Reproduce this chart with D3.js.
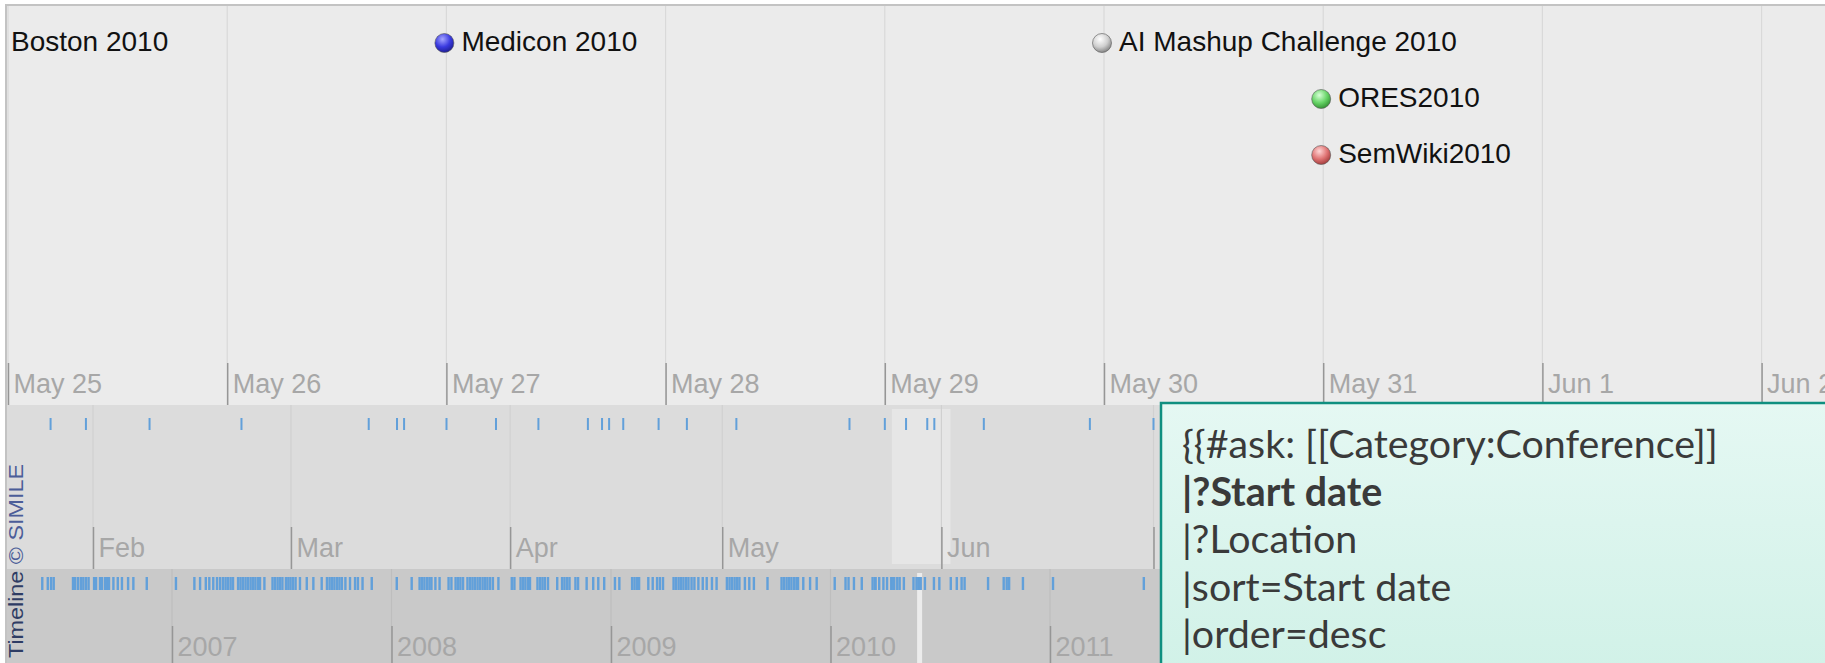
<!DOCTYPE html>
<html>
<head>
<meta charset="utf-8">
<script src="https://cdn.jsdelivr.net/npm/d3@7"></script>
<style>
body { margin: 0; background: #fff; }
svg { display: block; }
</style>
</head>
<body>
<svg id="chart" width="1825" height="663"></svg>
<script>
// events labelled in the detail band
const eventNames = ['Boston 2010', 'Medicon 2010', 'AI Mashup Challenge 2010', 'ORES2010', 'SemWiki2010']
const eventDates = ['2010-05-24', '2010-05-27', '2010-05-30', '2010-05-31', '2010-05-31']
const eventIcons = ['none', 'blue', 'gray', 'green', 'red']

// conference start dates 2010 / 2011 (month band + year band)
const recentDates = ['2010-01-08', '2010-01-26', '2010-01-31', '2010-02-09', '2010-02-22', '2010-03-12',
    '2010-03-16', '2010-03-17', '2010-03-23', '2010-03-30', '2010-04-05', '2010-04-12', '2010-04-14',
    '2010-04-15', '2010-04-17', '2010-04-22', '2010-04-26', '2010-05-03', '2010-05-19', '2010-05-24',
    '2010-05-27', '2010-05-30', '2010-05-31', '2010-06-07', '2010-06-22', '2010-07-01', '2010-07-20',
    '2010-07-30', '2010-08-07', '2010-08-12', '2010-09-20', '2010-10-16', '2010-10-21', '2010-10-25',
    '2010-11-17', '2011-01-06', '2011-06-06']

const olderYears = [2006.409, 2006.434, 2006.449, 2006.461, 2006.549, 2006.559, 2006.572, 2006.585, 2006.596,
    2006.608, 2006.620, 2006.645, 2006.654, 2006.672, 2006.681, 2006.695, 2006.704, 2006.713, 2006.733,
    2006.753, 2006.772, 2006.800, 2006.824, 2006.885,
    2007.018, 2007.102, 2007.128, 2007.154, 2007.170, 2007.188, 2007.205, 2007.219, 2007.232, 2007.244,
    2007.255, 2007.267, 2007.278, 2007.301, 2007.312, 2007.323, 2007.335, 2007.346, 2007.358, 2007.369,
    2007.380, 2007.392, 2007.401, 2007.421, 2007.458, 2007.469, 2007.481, 2007.492, 2007.503, 2007.519,
    2007.530, 2007.540, 2007.551, 2007.563, 2007.583, 2007.614, 2007.644, 2007.682, 2007.706, 2007.718,
    2007.729, 2007.740, 2007.752, 2007.763, 2007.774, 2007.790, 2007.811, 2007.834, 2007.847, 2007.868,
    2007.910,
    2008.024, 2008.092, 2008.128, 2008.139, 2008.150, 2008.162, 2008.173, 2008.182, 2008.200, 2008.219,
    2008.260, 2008.273, 2008.292, 2008.303, 2008.314, 2008.326, 2008.346, 2008.358, 2008.369, 2008.380,
    2008.392, 2008.403, 2008.415, 2008.426, 2008.437, 2008.449, 2008.462, 2008.487, 2008.548, 2008.560,
    2008.588, 2008.599, 2008.610, 2008.622, 2008.631, 2008.665, 2008.677, 2008.688, 2008.699, 2008.713,
    2008.755, 2008.777, 2008.788, 2008.800, 2008.811, 2008.838, 2008.850, 2008.889, 2008.919, 2008.942,
    2008.969,
    2009.018, 2009.038, 2009.096, 2009.107, 2009.118, 2009.128, 2009.170, 2009.190, 2009.210, 2009.223,
    2009.237, 2009.285, 2009.296, 2009.308, 2009.319, 2009.330, 2009.342, 2009.353, 2009.367, 2009.380,
    2009.398, 2009.418, 2009.436, 2009.460, 2009.481, 2009.528, 2009.540, 2009.551, 2009.563, 2009.574,
    2009.585, 2009.610, 2009.630, 2009.651, 2009.713, 2009.777, 2009.788, 2009.800, 2009.811, 2009.822,
    2009.834, 2009.845, 2009.852, 2009.876, 2009.907, 2009.937]

const dayTicks = ['2010-05-25', '2010-05-26', '2010-05-27', '2010-05-28', '2010-05-29', '2010-05-30',
    '2010-05-31', '2010-06-01', '2010-06-02']
const monthTicks = ['2010-02-01', '2010-03-01', '2010-04-01', '2010-05-01', '2010-06-01', '2010-07-01']
const yearTicks = [2007, 2008, 2009, 2010, 2011]

const queryLines = ['{{#ask: [[Category:Conference]]', '|?Start date', '|?Location', '|sort=Start date', '|order=desc']
const queryBold = [false, true, false, false, false]

const width = 1825
const height = 663
const left = 6
const boxX = 1161
const bandTop = 5, dayBottom = 405, monthBottom = 569
const labelFont = '"Liberation Sans", Arial, sans-serif'
const labelColor = '#a7a7a7'
const tickBlue = '#62a0da'

const parse = d3.utcParse('%Y-%m-%d')

function toYear(d){
    const y = d.getUTCFullYear()
    const s = Date.UTC(y, 0, 1), e = Date.UTC(y + 1, 0, 1)
    return y + (d - s) / (e - s)
}

const dayX = d3.scaleUtc()
    .domain([parse('2010-05-25'), parse('2010-06-02')])
    .range([8, 8 + 8 * 219.2])
const monthX = d3.scaleUtc()
    .domain([parse('2010-02-01'), parse('2010-06-01')])
    .range([93, 93 + 120 * 7.07])
const yearX = d3.scaleLinear()
    .domain([2007, 2011])
    .range([172, 1050])

const svg = d3.select('#chart')
const defs = svg.append('defs')

function addClip(id, y0, y1, x1){
    defs.append('clipPath').attr('id', id)
        .append('rect').attr('x', left).attr('y', y0).attr('width', x1 - left).attr('height', y1 - y0)
}
addClip('clip-day', bandTop, dayBottom, width)
addClip('clip-month', dayBottom, monthBottom, boxX + 2)
addClip('clip-year', monthBottom, height, boxX + 2)

function drawBand(id, y0, y1, fill, gridColor, scale, ticks, fmt, tickLen, labelY, labelLimit){
    const g = svg.append('g').attr('clip-path', 'url(#' + id + ')')
    g.append('rect')
        .attr('x', left).attr('y', y0)
        .attr('width', width - left).attr('height', y1 - y0)
        .attr('fill', fill)

    g.selectAll('.grid')
        .data(ticks)
        .enter()
        .append('line')
        .attr('class', 'grid')
        .attr('x1', d => scale(d)).attr('x2', d => scale(d))
        .attr('y1', y0).attr('y2', y1)
        .attr('stroke', gridColor)
        .attr('stroke-width', 1.2)

    const axis = d3.axisBottom(scale)
        .tickValues(ticks)
        .tickFormat(d => scale(d) + 40 > labelLimit ? '' : fmt(d))
        .tickSize(-tickLen)
        .tickPadding(0)

    const axisG = g.append('g')
        .attr('class', 'axis')
        .attr('transform', 'translate(0,' + y1 + ')')
        .call(axis)
        .attr('font-family', labelFont)
        .attr('font-size', 27)
    axisG.select('.domain').remove()
    axisG.selectAll('.tick line').attr('stroke', '#969696').attr('stroke-width', 1.5)
    axisG.selectAll('.tick text')
        .attr('text-anchor', 'start')
        .attr('x', 5)
        .attr('y', labelY - y1)
        .attr('dy', null)
        .attr('fill', labelColor)
    return g
}

// ---- day band
const dayBand = drawBand('clip-day', bandTop, dayBottom, '#ebebeb', '#d9d9d9', dayX,
    dayTicks.map(parse), d3.utcFormat('%b %-d'), 42, 393, Infinity)

// ---- month band
const monthBand = drawBand('clip-month', dayBottom, monthBottom, '#dcdcdc', '#d0d0d0', monthX,
    monthTicks.map(parse), d3.utcFormat('%b'), 42, 557, boxX)

// ---- year band
const yearBand = drawBand('clip-year', monthBottom, height, '#c9c9c9', '#bebebe', yearX,
    yearTicks, d3.format('d'), 37, 656, boxX)

// visible range of the detail band, highlighted in the overview bands
const viewStart = dayX.invert(left)
const viewEnd = dayX.invert(width)

monthBand.insert('rect', '.grid')
    .attr('x', monthX(viewStart)).attr('y', 409)
    .attr('width', monthX(viewEnd) - monthX(viewStart)).attr('height', 155)
    .attr('fill', '#e6e6e6')

yearBand.insert('rect', '.axis')
    .attr('x', yearX(toYear(viewStart))).attr('y', 573)
    .attr('width', Math.max(yearX(toYear(viewEnd)) - yearX(toYear(viewStart)), 5)).attr('height', height - 573)
    .attr('fill', '#ececec')

// ticks for every conference
const recent = recentDates.map(parse)

monthBand.selectAll('.event-tick')
    .data(recent)
    .enter()
    .append('rect')
    .attr('class', 'event-tick')
    .attr('x', d => monthX(d) - 1)
    .attr('y', 418)
    .attr('width', 2)
    .attr('height', 12)
    .attr('fill', tickBlue)

const allYears = olderYears.concat(recent.map(toYear))

yearBand.selectAll('.event-tick')
    .data(allYears)
    .enter()
    .append('rect')
    .attr('class', 'event-tick')
    .attr('x', d => yearX(d) - 1.2)
    .attr('y', 577)
    .attr('width', 2.4)
    .attr('height', 13)
    .attr('fill', tickBlue)

// ---- event icons and labels in the detail band
const iconStops = {
    blue:  ['#a5a5ff', '#3a3ae0', '#1c1c8c'],
    gray:  ['#ffffff', '#cfcfcf', '#7c7c7c'],
    green: ['#d6ffd6', '#66d466', '#2f8a2f'],
    red:   ['#ffd6d6', '#e07474', '#9c3636']
}
Object.keys(iconStops).forEach(function(k){
    const grad = defs.append('radialGradient')
        .attr('id', 'icon-' + k)
        .attr('cx', '40%').attr('cy', '30%').attr('r', '75%')
    iconStops[k].forEach(function(c, i){
        grad.append('stop').attr('offset', [0, 0.55, 1][i]).attr('stop-color', c)
    })
})

const events = eventNames.map(function(name, i){
    return {name: name, date: parse(eventDates[i]), icon: eventIcons[i]}
})

const eventG = dayBand.append('g')
const trackEnds = []
events.forEach(function(e){
    const x = dayX(e.date) - 2
    const labelX = Math.max(x + 17, 11)
    const label = eventG.append('text')
        .attr('x', labelX)
        .attr('font-family', labelFont)
        .attr('font-size', 28)
        .attr('fill', '#111')
        .text(e.name)
    const end = labelX + label.node().getComputedTextLength()
    const start = x - 10
    let track = trackEnds.findIndex(t => t < start)
    if (track == -1){
        track = trackEnds.length
        trackEnds.push(end)
    } else {
        trackEnds[track] = end
    }
    const baseline = 51 + track * 56
    label.attr('y', baseline)
    if (e.icon != 'none'){
        eventG.append('circle')
            .attr('cx', x)
            .attr('cy', baseline - 8)
            .attr('r', 9.5)
            .attr('fill', 'url(#icon-' + e.icon + ')')
            .attr('stroke', '#555')
            .attr('stroke-width', 0.6)
    }
})

// ---- frame
svg.append('line')
    .attr('x1', left - 1).attr('x2', width)
    .attr('y1', bandTop).attr('y2', bandTop)
    .attr('stroke', '#c3c3c3').attr('stroke-width', 2)
svg.append('line')
    .attr('x1', left).attr('x2', left)
    .attr('y1', bandTop).attr('y2', height)
    .attr('stroke', '#c3c3c3').attr('stroke-width', 2)

const credit = svg.append('text')
    .attr('transform', 'translate(23,658) rotate(-90)')
    .attr('font-family', labelFont)
    .attr('font-size', 20)
    .attr('textLength', 194)
    .attr('lengthAdjust', 'spacingAndGlyphs')
credit.append('tspan').attr('fill', '#2e3c64').text('Timeline')
credit.append('tspan').attr('fill', '#4b5d98').text(' \u00a9 SIMILE')

// ---- query box
const boxGrad = defs.append('linearGradient')
    .attr('id', 'box-grad')
    .attr('x1', 0).attr('y1', 0).attr('x2', 0).attr('y2', 1)
boxGrad.append('stop').attr('offset', 0).attr('stop-color', '#e5f8f3')
boxGrad.append('stop').attr('offset', 1).attr('stop-color', '#c7eee2')

svg.append('rect')
    .attr('x', boxX).attr('y', 403)
    .attr('width', 800).attr('height', 400)
    .attr('fill', 'url(#box-grad)')
    .attr('stroke', '#0f8f80')
    .attr('stroke-width', 2.5)

const boxFont = 'Lato, "Open Sans", sans-serif'
const queryText = svg.append('g')
    .attr('font-family', boxFont)
    .attr('fill', '#3a3a3a')

const lines = queryText.selectAll('text')
    .data(queryLines)
    .enter()
    .append('text')
    .attr('x', 1182)
    .attr('y', (d, i) => 458 + i * 47.5)
    .attr('font-size', 40)
    .attr('font-weight', (d, i) => queryBold[i] ? 'bold' : 'normal')
    .text(d => d)

// fit the substitute font to the width of the original first line
const firstLen = lines.node().getComputedTextLength()
lines.attr('font-size', 40 * 536 / firstLen)
</script>
</body>
